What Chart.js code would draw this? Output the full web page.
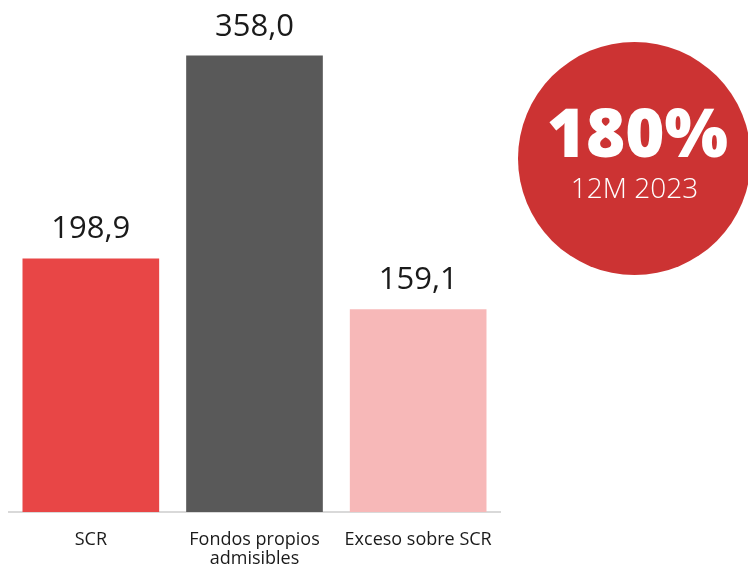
<!DOCTYPE html>
<html>
<head>
<meta charset="utf-8">
<script src="https://cdn.jsdelivr.net/npm/chart.js@4/dist/chart.umd.min.js"></script>
<style>
    html, body { margin: 0; padding: 0; background: #fff; }
    #wrap { position: relative; width: 748px; height: 569px; overflow: hidden; }
    #solvencyChart { position: absolute; left: 0; top: 0; }
    #ratio {
        position: absolute; left: 518px; top: 42px; width: 233px; height: 233px;
        border-radius: 50%; background: #cc3333; color: #fff;
        font-family: "Open Sans", sans-serif; text-align: center;
    }
    #ratio .big { position: absolute; left: 0; right: 0; top: 56px; font-size: 67px; font-weight: 800; line-height: 1; padding-left: 6px; }
    #ratio .small { position: absolute; left: 0; right: 0; top: 131px; font-size: 28px; font-weight: 300; line-height: 1; }
</style>
</head>
<body>
<div id="wrap">
    <canvas id="solvencyChart" width="748" height="587"></canvas>
    <div id="ratio"><div class="big">180%</div><div class="small">12M 2023</div></div>
</div>
<script>
const categories = ['SCR', ['Fondos propios', 'admisibles'], 'Exceso sobre SCR'];
const values = [198.9, 358.0, 159.1];
const barColors = ['#e84646', '#595959', '#f7b8b8'];

// labels above each bar, comma as decimal mark
const valueLabels = {
    id: 'valueLabels',
    afterDatasetsDraw(chart) {
        const ctx = chart.ctx;
        const meta = chart.getDatasetMeta(0);
        ctx.save();
        ctx.font = '400 31px "Open Sans"';
        ctx.fillStyle = '#1a1a1a';
        ctx.textAlign = 'center';
        ctx.textBaseline = 'alphabetic';
        meta.data.forEach((bar, i) => {
            ctx.fillText(values[i].toFixed(1).replace('.', ','), bar.x, bar.y - 20);
        });
        ctx.restore();
    }
};

const ctx = document.getElementById('solvencyChart').getContext('2d');
new Chart(ctx, {
    type: 'bar',
    data: {
        labels: categories,
        datasets: [{
            data: values,
            backgroundColor: barColors,
            barPercentage: 0.835,
            categoryPercentage: 1
        }]
    },
    options: {
        responsive: false,
        animation: false,
        layout: { padding: { left: 9, right: 248, top: 2, bottom: 0 } },
        plugins: { legend: { display: false }, tooltip: { enabled: false } },
        scales: {
            x: {
                grid: { display: false, drawTicks: false },
                border: { display: true, color: '#d9d9d9', width: 2 },
                ticks: {
                    color: '#1a1a1a',
                    padding: 18,
                    maxRotation: 0,
                    autoSkip: false,
                    font: { family: '"Open Sans"', size: 18, lineHeight: 1.08 }
                }
            },
            y: {
                display: false,
                min: 0,
                max: 400
            }
        }
    },
    plugins: [valueLabels]
});
</script>
</body>
</html>
